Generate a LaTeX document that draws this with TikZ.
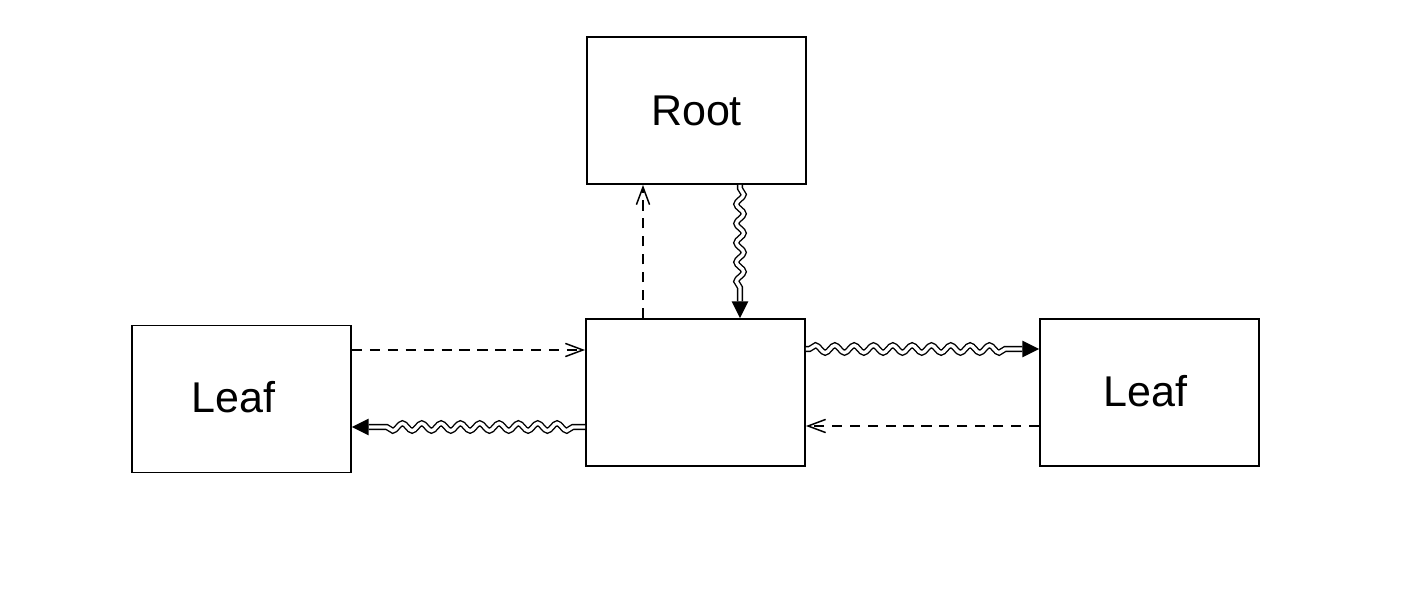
\documentclass[tikz,border=0pt]{standalone}
\usepackage{fontspec}
\setmainfont{Liberation Sans}
\usetikzlibrary{arrows.meta,decorations.pathmorphing,calc}
\tikzset{
  box/.style={draw=black, line width=1.1pt, minimum width=4.38cm, minimum height=2.94cm, inner sep=0pt},
  boxlabel/.style={font=\fontsize{24.5}{29}\selectfont},
  dasharr/.style={draw=black, line width=0.85pt, dash pattern=on 5.8pt off 4.4pt, -{Straight Barb[length=10pt,width=7.5pt,line width=0.85pt]}},
  wavyarr/.style={draw=black, line width=0.8pt, double=white, double distance=1.9pt,
     decorate, decoration={snake, amplitude=2.1pt, segment length=11pt, pre length=#1, post length=17pt},
     -{Triangle[length=9.5pt,width=9.5pt,line width=0pt]}},
  wavyarr/.default=2pt
}
\begin{document}
\begin{tikzpicture}[x=0.02cm,y=-0.02cm]
\useasboundingbox (0,0) rectangle (1404,604);
\node[box] (root) at (696.5,110.5) {};
\node[boxlabel] (roott) at (696.5,110.5) {Root};
\node[box] (mid) at (695.5,392.5) {};
\node[box] (leafl) at (241.5,399) {};
\node[boxlabel] (leaflt) at (233.5,397) {Leaf};
\node[box] (leafr) at (1149.5,392.5) {};
\node[boxlabel] (leafrt) at (1145.5,391) {Leaf};

% middle <-> root
\coordinate (d1) at ($(mid.north)+(-52.5,0)$);
\draw[dasharr] (d1) -- (d1 |- root.south);
\coordinate (w1) at ($(root.south)+(43.5,0)$);
\draw[wavyarr] (w1) -- (w1 |- mid.north);

% middle <-> right leaf
\coordinate (w2) at ($(mid.east)+(0,-43.5)$);
\draw[wavyarr] (w2) -- (w2 -| leafr.west);
\coordinate (d2) at ($(leafr.west)+(0,33.5)$);
\draw[dasharr] (d2) -- (d2 -| mid.east);

% left leaf <-> middle
\coordinate (d3) at ($(leafl.east)+(0,-49)$);
\draw[dasharr] (d3) -- (d3 -| mid.west);
\coordinate (w3) at ($(mid.west)+(0,34.5)$);
\draw[wavyarr=7pt] (w3) -- (w3 -| leafl.east);
\end{tikzpicture}
\end{document}
